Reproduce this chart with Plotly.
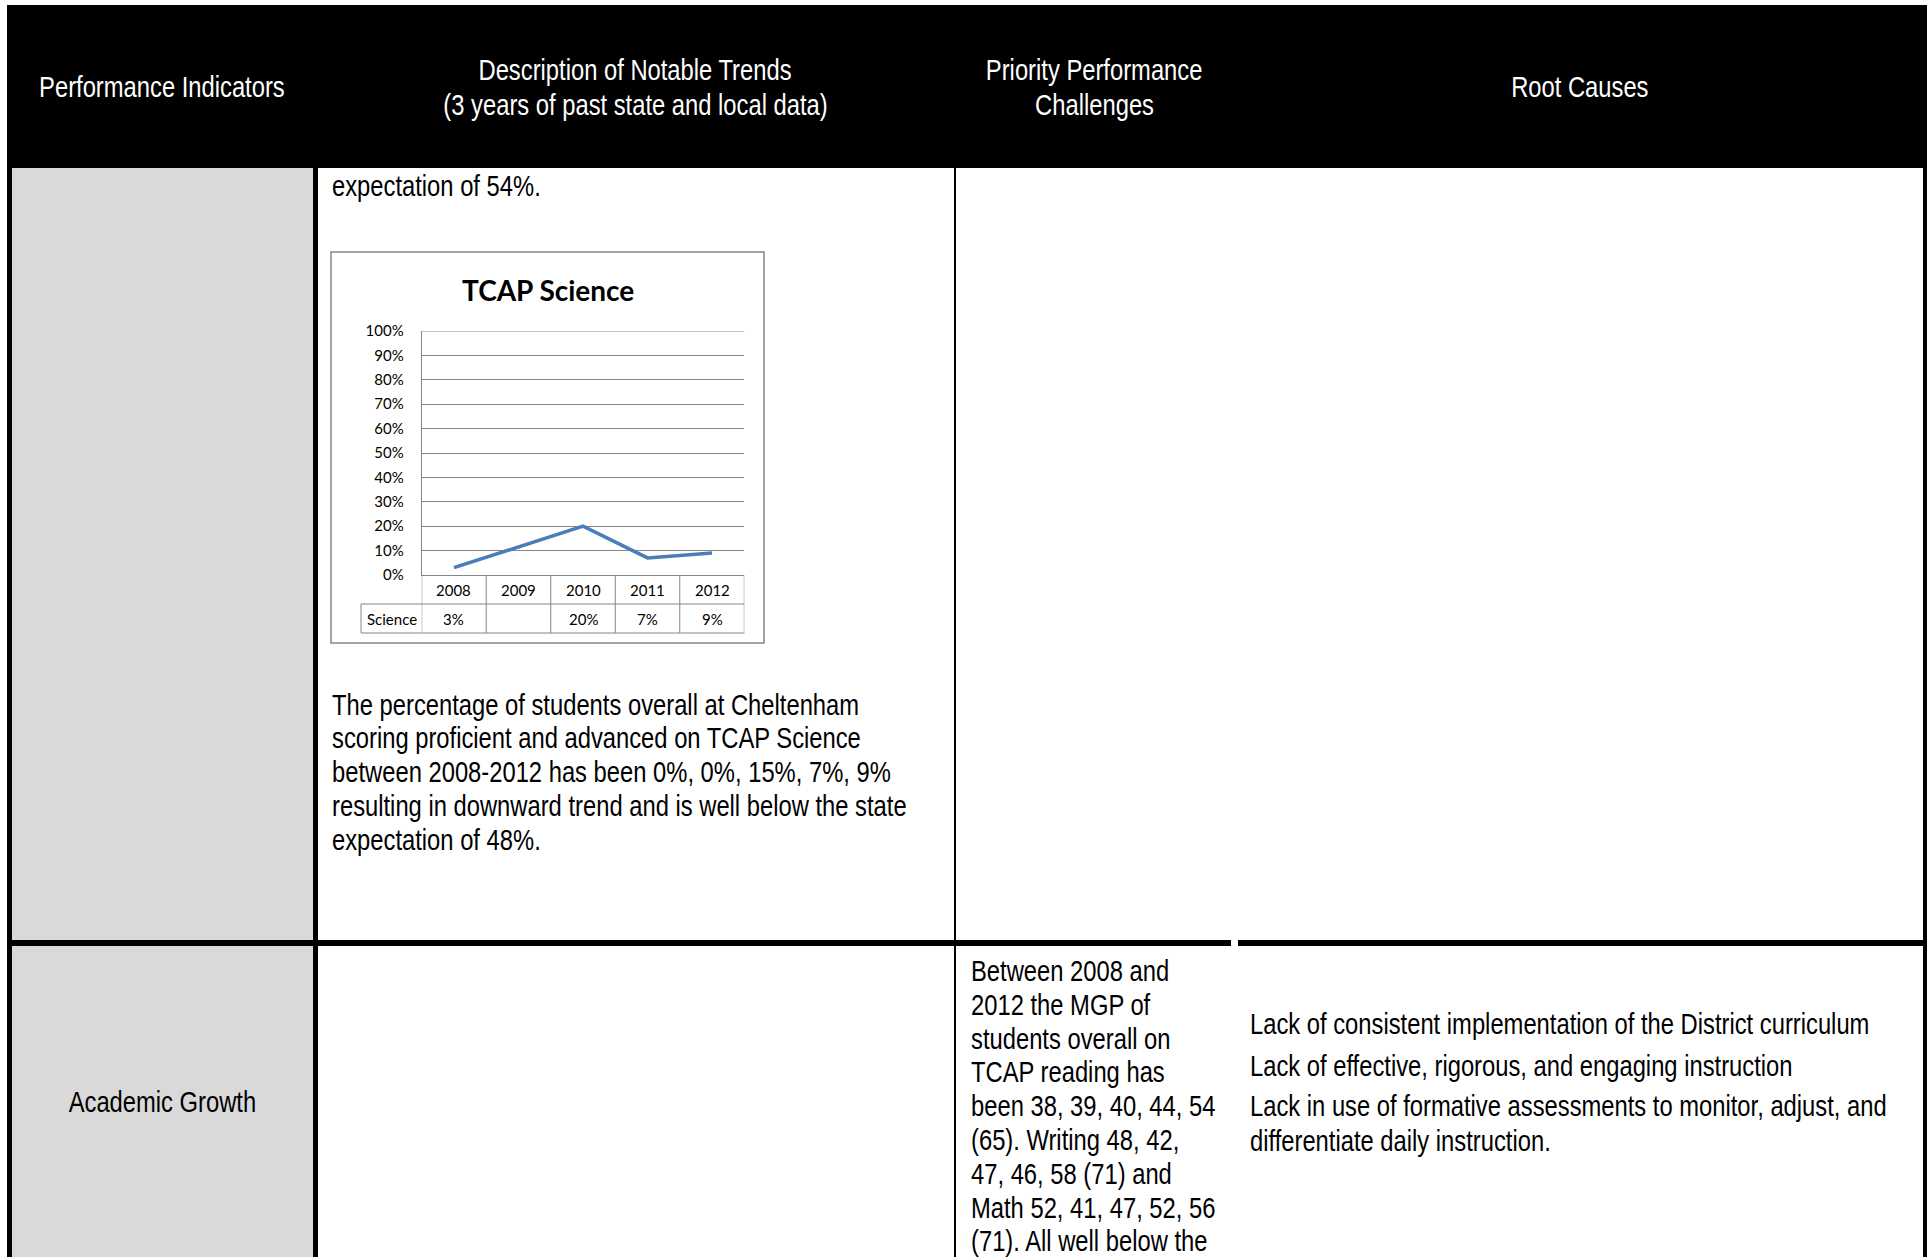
import plotly.graph_objects as go

# ---------------- data ----------------
years = ["2008", "2009", "2010", "2011", "2012"]
science = [0.03, None, 0.20, 0.07, 0.09]
science_labels = ["3%", "", "20%", "7%", "9%"]
y_ticks = [0, 0.1, 0.2, 0.3, 0.4, 0.5, 0.6, 0.7, 0.8, 0.9, 1.0]

headers = [
    ["Performance Indicators"],
    ["Description of Notable Trends", "(3 years of past state and local data)"],
    ["Priority Performance", "Challenges"],
    ["Root Causes"],
]
row1_top_text = ["expectation of 54%."]
row1_para = [
    "The percentage of students overall at Cheltenham",
    "scoring proficient and advanced on TCAP Science",
    "between 2008-2012 has been 0%, 0%, 15%, 7%, 9%",
    "resulting in downward trend and is well below the state",
    "expectation of 48%.",
]
row2_label = "Academic Growth"
row2_challenges = [
    "Between 2008 and",
    "2012 the MGP of",
    "students overall on",
    "TCAP reading has",
    "been 38, 39, 40, 44, 54",
    "(65). Writing 48, 42,",
    "47, 46, 58 (71) and",
    "Math 52, 41, 47, 52, 56",
    "(71). All well below the",
]
row2_causes = [
    "Lack of consistent implementation of the District curriculum",
    "Lack of effective, rigorous, and engaging instruction",
    "Lack in use of formative assessments to monitor, adjust, and",
    "differentiate daily instruction.",
]

# ---------------- layout helpers ----------------
W, H = 1927, 1257
def px(x):
    return x / W
def py(y):
    return 1 - y / H

BODY = "Liberation Sans, Arial, sans-serif"
CHART = "Lato, Carlito, Calibri, sans-serif"
BODY_SIZE = 29
GRID = "#868686"

shapes = []
annotations = []

def rect(x0, y0, x1, y1, fill):
    shapes.append(dict(type="rect", xref="paper", yref="paper",
                       x0=px(x0), x1=px(x1), y0=py(y1), y1=py(y0),
                       fillcolor=fill, line=dict(width=0), layer="below"))

def text(s, x, y, anchor="left", size=BODY_SIZE, color="black", family=BODY):
    annotations.append(dict(text=s, xref="paper", yref="paper",
                            x=px(x), y=py(y), xanchor=anchor, yanchor="middle",
                            align="left" if anchor == "left" else "center",
                            showarrow=False, font=dict(family=family, size=size, color=color)))

# table structure
rect(7, 5, 1927, 168, "black")            # header band
rect(12, 168, 313, 1257, "#d9d9d9")       # grey first column
rect(7, 168, 12, 1257, "black")           # left border
rect(313, 168, 318, 1257, "black")        # col1/col2 border
rect(954, 168, 956, 1257, "black")        # col2/col3 border
rect(1923, 168, 1927, 1257, "black")      # right border
rect(7, 940, 1231, 946, "black")          # row separator (left part)
rect(1238, 940, 1927, 946, "black")       # row separator (right part)

# header text
text(headers[0][0], 162, 87, "center", color="white")
text(headers[1][0], 635, 70, "center", color="white")
text(headers[1][1], 635, 104.5, "center", color="white")
text(headers[2][0], 1094, 70, "center", color="white")
text(headers[2][1], 1094, 104.5, "center", color="white")
text(headers[3][0], 1580, 87, "center", color="white")

# row 1 text
text(row1_top_text[0], 330, 186)
for i, s in enumerate(row1_para):
    text(s, 330, 704.5 + i * 33.8)

# row 2 text
text(row2_label, 162, 1102, "center")
for i, s in enumerate(row2_challenges):
    text(s, 969, 971 + i * 33.8)
for i, s in enumerate(row2_causes):
    yy = [1024, 1065.5, 1106, 1140.5][i]
    text(s, 1248, yy)

# ---------------- embedded chart ----------------
shapes.append(dict(type="rect", xref="paper", yref="paper",
                   x0=px(331), x1=px(764), y0=py(643), y1=py(252),
                   line=dict(color=GRID, width=1.5), fillcolor="rgba(0,0,0,0)", layer="below"))

plot_left, plot_right = 421.7, 744.3
plot_top, plot_bot = 331, 575
row1_bot, row2_bot = 604, 633
table_left = 361

fig = go.Figure()
fig.add_trace(go.Scatter(x=list(range(len(years))), y=science, mode="lines", connectgaps=True,
                         line=dict(color="#4a7ebb", width=3.5), showlegend=False,
                         hoverinfo="skip"))

shapes.append(dict(type="line", xref="paper", yref="y",
                   x0=px(plot_left), x1=px(plot_right), y0=y_ticks[-1], y1=y_ticks[-1],
                   line=dict(color=GRID, width=1)))

for k in range(len(years) + 1):
    shapes.append(dict(type="line", xref="x", yref="paper",
                       x0=k - 0.5, x1=k - 0.5, y0=py(plot_bot), y1=py(row2_bot),
                       line=dict(color=GRID, width=1)))
for yy in (row1_bot, row2_bot):
    shapes.append(dict(type="line", xref="paper", yref="paper",
                       x0=px(table_left), x1=px(plot_right), y0=py(yy), y1=py(yy),
                       line=dict(color=GRID, width=1)))
shapes.append(dict(type="line", xref="paper", yref="paper",
                   x0=px(table_left), x1=px(table_left), y0=py(row1_bot), y1=py(row2_bot),
                   line=dict(color=GRID, width=1)))

for i, (yr, lab) in enumerate(zip(years, science_labels)):
    annotations.append(dict(text=yr, xref="x", yref="paper", x=i, y=py(589.5),
                            showarrow=False, xanchor="center", yanchor="middle",
                            font=dict(family=CHART, size=15, color="black")))
    if lab:
        annotations.append(dict(text=lab, xref="x", yref="paper", x=i, y=py(618.5),
                                showarrow=False, xanchor="center", yanchor="middle",
                                font=dict(family=CHART, size=15, color="black")))
annotations.append(dict(text="Science", xref="paper", yref="paper", x=px(391.5), y=py(618.5),
                        showarrow=False, xanchor="center", yanchor="middle",
                        font=dict(family=CHART, size=15, color="black")))
annotations.append(dict(text="<b>TCAP Science</b>", xref="paper", yref="paper",
                        x=px(547.5), y=py(290), showarrow=False, xanchor="center", yanchor="middle",
                        font=dict(family=CHART, size=28, color="black")))

fig.update_layout(
    width=W, height=H, autosize=False,
    margin=dict(l=0, r=0, t=0, b=0, pad=0, autoexpand=False),
    paper_bgcolor="white", plot_bgcolor="white",
    shapes=shapes, annotations=annotations, showlegend=False,
    xaxis=dict(domain=[px(plot_left), px(plot_right)], range=[-0.5, len(years) - 0.5],
               showticklabels=False, ticks="", showgrid=False, zeroline=False, automargin=False,
               showline=True, linecolor=GRID, linewidth=1, fixedrange=True),
    yaxis=dict(domain=[py(plot_bot), py(plot_top)], range=[0, 1], tickvals=y_ticks,
               tickformat=".0%", showgrid=True, gridcolor=GRID, gridwidth=1,
               zeroline=False, showline=True, linecolor=GRID, linewidth=1, automargin=False,
               ticks="", ticklabelstandoff=14,
               tickfont=dict(family=CHART, size=15, color="black"), fixedrange=True),
)

post = """
document.documentElement.style.margin='0';
document.body.style.margin='0';
document.body.style.overflow='hidden';
function condense(){
  document.querySelectorAll('text.annotation-text').forEach(function(t){
    var ff = (t.style.fontFamily || '') + (t.getAttribute('style') || '');
    if (ff.indexOf('Liberation Sans') === -1) return;
    var a = t.getAttribute('text-anchor') || 'middle';
    t.style.transformBox = 'fill-box';
    t.style.transformOrigin = (a === 'start') ? 'left center' : ((a === 'end') ? 'right center' : 'center center');
    t.style.transform = 'scaleX(0.82)';
  });
}
condense();
var gd = document.getElementById('{plot_id}');
if (gd && gd.on) { gd.on('plotly_afterplot', condense); }
setTimeout(condense, 50);
"""

fig.write_html("out.html", post_script=post, config={"displayModeBar": False})
